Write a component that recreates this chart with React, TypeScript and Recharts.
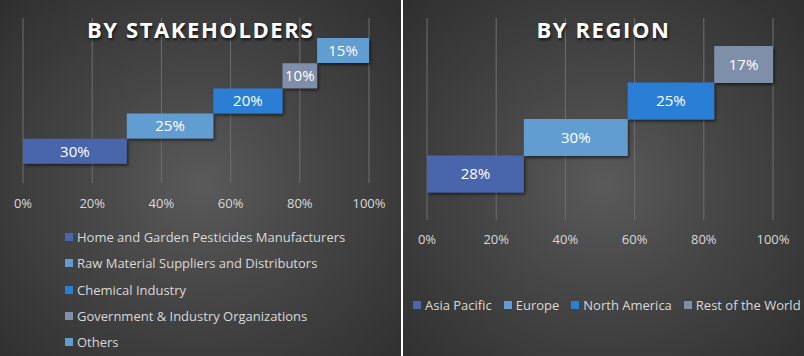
import React from 'react';
import { BarChart, Bar, XAxis, YAxis, CartesianGrid, Cell, LabelList, Legend } from 'recharts';

const stakeholderNames = [
  'Home and Garden Pesticides Manufacturers',
  'Raw Material Suppliers and Distributors',
  'Chemical Industry',
  'Government & Industry Organizations',
  'Others',
];
const stakeholderShares = [30, 25, 20, 10, 15];
const stakeholderColors = ['#4a66ac', '#629dd1', '#297fd5', '#7f8fa9', '#629dd1'];

const regionNames = ['Asia Pacific', 'Europe', 'North America', 'Rest of the World'];
const regionShares = [28, 30, 25, 17];
const regionColors = ['#4a66ac', '#629dd1', '#297fd5', '#7f8fa9'];

const percentTicks = [0, 20, 40, 60, 80, 100];

function buildRows(names: string[], values: number[]) {
  let acc = 0;
  return names.map((name, i) => {
    const start = acc;
    acc += values[i];
    return { name, value: values[i], range: [start, start + values[i]] };
  });
}

const stakeholderRows = buildRows(stakeholderNames, stakeholderShares);
const regionRows = buildRows(regionNames, regionShares);

const FONT = '"Open Sans", sans-serif';
const GRID = '#6e6e6e';
const TICK = '#d9d9d9';

const panelBg = 'radial-gradient(ellipse at 50% 52%, #5a5a5a 0%, #474747 40%, #2f2f2f 100%)';

const titleStyle: React.CSSProperties = {
  position: 'absolute',
  left: 0,
  width: 401,
  top: 18,
  textAlign: 'center',
  fontFamily: FONT,
  fontWeight: 700,
  fontSize: 22,
  lineHeight: '22px',
  letterSpacing: 1.6,
  color: '#ffffff',
  textShadow: '1px 2px 3px rgba(0,0,0,0.7)',
  zIndex: 2,
};

const Swatch = ({ color }: { color: string }) => (
  <span style={{ display: 'inline-block', width: 8, height: 8, background: color, marginRight: 4 }} />
);

const VerticalLegend = () => (
  <div style={{ fontFamily: FONT, fontSize: 13, color: TICK }}>
    {stakeholderNames.map((n, i) => (
      <div key={n} style={{ height: 26.3, lineHeight: '26.3px', display: 'flex', alignItems: 'center', whiteSpace: 'nowrap' }}>
        <Swatch color={stakeholderColors[i]} />
        <span>{n}</span>
      </div>
    ))}
  </div>
);

const HorizontalLegend = () => (
  <div style={{ fontFamily: FONT, fontSize: 13, color: TICK, display: 'flex', alignItems: 'center', whiteSpace: 'nowrap' }}>
    {regionNames.map((n, i) => (
      <div key={n} style={{ display: 'flex', alignItems: 'center', marginRight: 12 }}>
        <Swatch color={regionColors[i]} />
        <span>{n}</span>
      </div>
    ))}
  </div>
);

const labelFmt = (v: any) => (v == null ? '' : `${v}%`);

export default function App() {
  return (
    <div style={{ position: 'absolute', left: 0, top: 0, width: 804, height: 356, background: '#ffffff', fontFamily: FONT, overflow: 'hidden' }}>
      <svg width={0} height={0} style={{ position: 'absolute' }}>
        <defs>
          <filter id="barShadow" x="-10%" y="-30%" width="130%" height="180%">
            <feDropShadow dx={1.5} dy={2} stdDeviation={1.5} floodColor="#000000" floodOpacity={0.55} />
          </filter>
        </defs>
      </svg>

      {/* Left panel */}
      <div style={{ position: 'absolute', left: 0, top: 0, width: 401, height: 356, background: panelBg }}>
        <div style={titleStyle}>BY STAKEHOLDERS</div>
        <BarChart
          width={401}
          height={356}
          data={stakeholderRows}
          layout="vertical"
          barCategoryGap={0}
          margin={{ top: 18, right: 32, bottom: 143, left: 23 }}
        >
          <CartesianGrid horizontal={false} vertical stroke={GRID} strokeWidth={1} />
          <XAxis
            type="number"
            domain={[0, 100]}
            ticks={percentTicks}
            tickFormatter={(v) => `${v}%`}
            axisLine={false}
            tickLine={false}
            tickSize={0}
            tickMargin={16}
            height={30}
            interval={0}
            tick={{ fill: TICK, fontSize: 13, fontFamily: FONT }}
          />
          <YAxis type="category" dataKey="name" hide reversed padding={{ top: 20, bottom: 19 }} />
          <Legend
            layout="vertical"
            align="center"
            verticalAlign="middle"
            wrapperStyle={{ left: 65, top: 224, width: 330 }}
            content={() => <VerticalLegend />}
          />
          <Bar dataKey="range" isAnimationActive={false}>
            {stakeholderRows.map((r, i) => (
              <Cell key={r.name} fill={stakeholderColors[i]} filter="url(#barShadow)" />
            ))}
            <LabelList dataKey="value" position="center" formatter={labelFmt} fill="#ffffff" fontSize={15} fontFamily={FONT} />
          </Bar>
        </BarChart>
      </div>

      {/* Right panel */}
      <div style={{ position: 'absolute', left: 403, top: 0, width: 401, height: 356, background: panelBg }}>
        <div style={titleStyle}>BY REGION</div>
        <BarChart
          width={401}
          height={356}
          data={regionRows}
          layout="vertical"
          barCategoryGap={0}
          margin={{ top: 18, right: 31, bottom: 106, left: 24 }}
        >
          <CartesianGrid horizontal={false} vertical stroke={GRID} strokeWidth={1} />
          <XAxis
            type="number"
            domain={[0, 100]}
            ticks={percentTicks}
            tickFormatter={(v) => `${v}%`}
            axisLine={false}
            tickLine={false}
            tickSize={0}
            tickMargin={15}
            height={30}
            interval={0}
            tick={{ fill: TICK, fontSize: 13, fontFamily: FONT }}
          />
          <YAxis type="category" dataKey="name" hide reversed padding={{ top: 28, bottom: 28 }} />
          <Legend
            layout="horizontal"
            align="center"
            verticalAlign="middle"
            wrapperStyle={{ left: 10, top: 296, width: 400 }}
            content={() => <HorizontalLegend />}
          />
          <Bar dataKey="range" isAnimationActive={false}>
            {regionRows.map((r, i) => (
              <Cell key={r.name} fill={regionColors[i]} filter="url(#barShadow)" />
            ))}
            <LabelList dataKey="value" position="center" formatter={labelFmt} fill="#ffffff" fontSize={15} fontFamily={FONT} />
          </Bar>
        </BarChart>
      </div>
    </div>
  );
}
